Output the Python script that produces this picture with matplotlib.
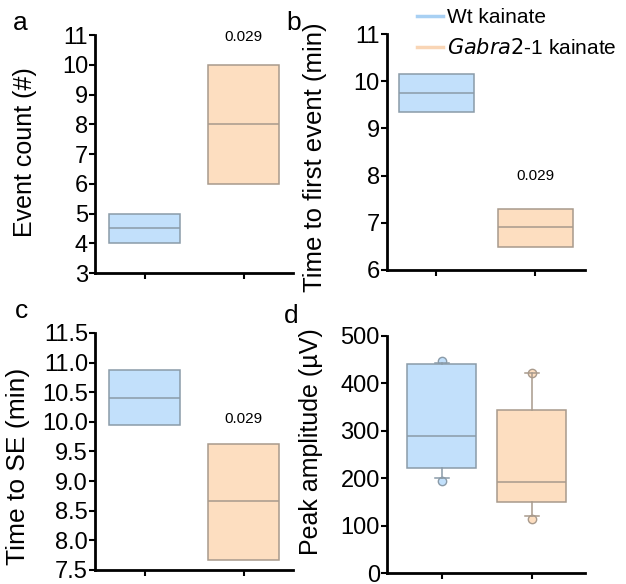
import matplotlib
matplotlib.use("Agg")
import matplotlib.pyplot as plt
from matplotlib.lines import Line2D

plt.rcParams['font.family'] = ['Liberation Sans', 'DejaVu Sans']

groups = ["Wt kainate", "Gabra2-1 kainate"]
legend_labels = ["Wt kainate", r"$\it{Gabra2}$-1 kainate"]

# panel a: Event count (#)  [q1, median, q3]
a_q1 = [4.0, 6.0]
a_med = [4.5, 8.0]
a_q3 = [5.0, 10.0]
# panel b: Time to first event (min)
b_q1 = [9.34, 6.48]
b_med = [9.75, 6.91]
b_q3 = [10.16, 7.30]
# panel c: Time to SE (min)
c_q1 = [9.94, 7.66]
c_med = [10.40, 8.67]
c_q3 = [10.87, 9.63]
# panel d: Peak amplitude (uV)
d_q1 = [221, 149]
d_med = [288, 191]
d_q3 = [441, 344]
d_whislo = [200, 120]
d_whishi = [443, 422]
d_points_lo = [194, 113]
d_points_hi = [447, 422]

p_value = "0.029"

fill_cols = ["#C2E0FB", "#FDDEC0"]
edge_cols = ["#8A9BA8", "#A89A8C"]
leg_cols = ["#A8D0F3", "#F9D5B5"]

TICK_FS = 17
fig = plt.figure(figsize=(6.26, 5.84), dpi=100)

def style_ax(ax, ylim, yticks, yfmt, xlim):
    ax.set_ylim(*ylim)
    ax.set_xlim(*xlim)
    ax.set_yticks(yticks)
    ax.set_yticklabels([yfmt.format(v) for v in yticks])
    ax.set_xticks([0, 1])
    ax.set_xticklabels([])
    for s in ["top", "right"]:
        ax.spines[s].set_visible(False)
    for s in ["left", "bottom"]:
        ax.spines[s].set_linewidth(2)
    ax.tick_params(axis='y', length=4, width=1.5, pad=1, labelsize=TICK_FS)
    ax.tick_params(axis='x', length=4, width=1.5)

def draw_boxes(ax, q1, med, q3, width, wlo=None, whi=None):
    stats = []
    for i in range(2):
        stats.append(dict(q1=q1[i], med=med[i], q3=q3[i],
                          whislo=(wlo[i] if wlo else q1[i]),
                          whishi=(whi[i] if whi else q3[i]),
                          fliers=[], label=groups[i]))
    for i in range(2):
        ax.bxp([stats[i]], positions=[i], widths=width, patch_artist=True,
               showcaps=wlo is not None, showfliers=False,
               boxprops=dict(facecolor=fill_cols[i], edgecolor=edge_cols[i], linewidth=1.1),
               medianprops=dict(color=edge_cols[i], linewidth=1.1),
               whiskerprops=dict(color=edge_cols[i], linewidth=1.1),
               capprops=dict(color=edge_cols[i], linewidth=1.1),
               capwidths=0.15, zorder=3)

# a
axa = fig.add_axes([0.1518, 0.5325, 0.3163, 0.4075])
draw_boxes(axa, a_q1, a_med, a_q3, 0.72)
style_ax(axa, (3, 11), list(range(3, 12)), "{:d}", (-0.5, 1.5))
axa.set_ylabel("Event count (#)", fontsize=18)
axa.yaxis.set_label_coords(-0.293, 0.508)
axa.text(1, 10.95, p_value, ha='center', va='center', fontsize=11)

# b
axb = fig.add_axes([0.618, 0.5377, 0.3163, 0.404])
draw_boxes(axb, b_q1, b_med, b_q3, 0.76)
style_ax(axb, (6, 11), list(range(6, 12)), "{:d}", (-0.5, 1.5))
axb.set_ylabel("Time to first event (min)", fontsize=18.5)
axb.yaxis.set_label_coords(-0.303, 0.48)
axb.text(1, 8.0, p_value, ha='center', va='center', fontsize=11)

# c
axc = fig.add_axes([0.1518, 0.024, 0.3163, 0.406])
draw_boxes(axc, c_q1, c_med, c_q3, 0.72)
cticks = [7.5 + 0.5 * k for k in range(9)]
style_ax(axc, (7.5, 11.5), cticks, "{:.1f}", (-0.5, 1.5))
axc.set_ylabel("Time to SE (min)", fontsize=19)
axc.yaxis.set_label_coords(-0.33, 0.435)
axc.text(1, 10.04, p_value, ha='center', va='center', fontsize=11)

# d
axd = fig.add_axes([0.618, 0.0188, 0.3163, 0.406])
for i in range(2):
    axd.scatter([i, i], [d_points_lo[i], d_points_hi[i]], s=36, facecolor=fill_cols[i],
                edgecolor=edge_cols[i], linewidth=1, zorder=2)
draw_boxes(axd, d_q1, d_med, d_q3, 0.77, d_whislo, d_whishi)
style_ax(axd, (0, 500), list(range(0, 501, 100)), "{:d}", (-0.61, 1.59))
axd.set_ylabel("Peak amplitude (\u00b5V)", fontsize=18)
axd.yaxis.set_label_coords(-0.323, 0.553)

# panel letters
for lt, x, y in [("a", 20, 23), ("b", 294, 23), ("c", 21, 311), ("d", 291, 316)]:
    fig.text(x / 626, 1 - y / 584, lt, ha='center', va='center', fontsize=19)

# legend
handles = [Line2D([0], [0], color=leg_cols[i], lw=2.5) for i in range(2)]
fig.legend(handles, legend_labels, loc='upper left', bbox_to_anchor=(417 / 626, 1 - 8 / 584),
           frameon=False, fontsize=15, handlelength=1.25, handletextpad=0.2,
           labelspacing=0.55, borderpad=0, borderaxespad=0)

fig.savefig("out.png", dpi=100)
